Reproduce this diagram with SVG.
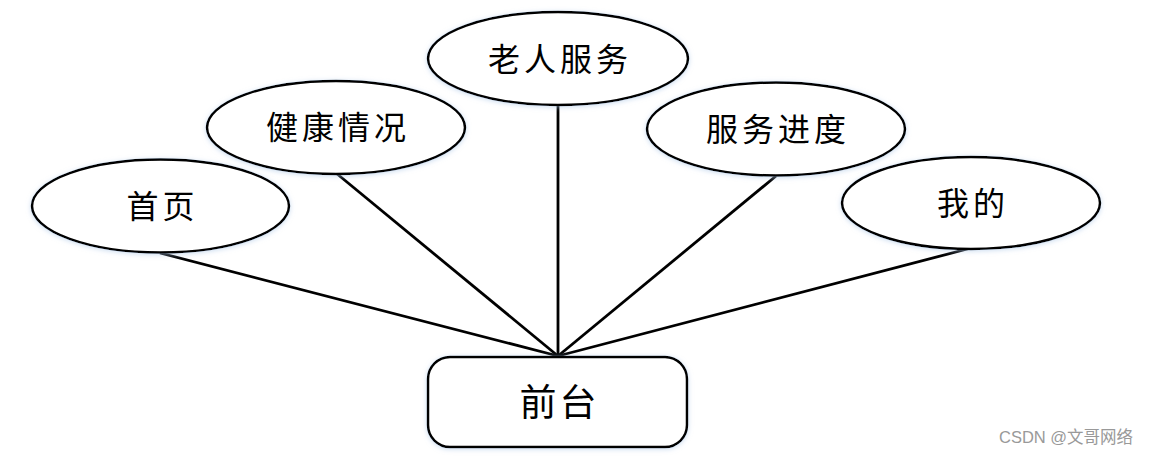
<svg xmlns="http://www.w3.org/2000/svg" width="1150" height="456" viewBox="0 0 1150 456">
<style>
.node{fill:#fff;stroke:#000;stroke-width:2.5;filter:url(#glow)}
.lbl{font-family:"Noto Sans CJK SC","Noto Sans",sans-serif;font-size:32px;letter-spacing:4px;fill:#000;text-anchor:middle;dominant-baseline:central}
.edge{stroke:#000;stroke-width:2.8;fill:none}
.wm{font-family:"Liberation Sans","Noto Sans CJK SC",sans-serif;font-size:16.5px;fill:#999}
</style>
<defs>
<filter id="glow" x="-10%" y="-20%" width="120%" height="140%">
<feDropShadow dx="0" dy="1" stdDeviation="2.5" flood-color="#a8c4e6" flood-opacity="0.6"/>
</filter>
</defs>
<rect width="1150" height="456" fill="#fff"/>
<g id="connectors">
<line class="edge" x1="160" y1="253" x2="558" y2="356"/>
<line class="edge" x1="336" y1="173" x2="558" y2="356"/>
<line class="edge" x1="558" y1="105" x2="558" y2="356"/>
<line class="edge" x1="776" y1="176" x2="558" y2="356"/>
<line class="edge" x1="971" y1="248" x2="558" y2="356"/>
</g>
<g id="n-shouye"><ellipse class="node" cx="160.5" cy="206" rx="128.5" ry="46.5"/><text class="lbl" x="162.5" y="204">首页</text></g>
<g id="n-jiankang"><ellipse class="node" cx="336" cy="127.5" rx="129" ry="46.5"/><text class="lbl" x="338" y="125">健康情况</text></g>
<g id="n-laoren"><ellipse class="node" cx="558" cy="58.5" rx="130" ry="46.5"/><text class="lbl" x="560" y="57">老人服务</text></g>
<g id="n-jindu"><ellipse class="node" cx="776" cy="129" rx="129" ry="46.5"/><text class="lbl" x="778" y="127">服务进度</text></g>
<g id="n-wode"><ellipse class="node" cx="971" cy="203" rx="129" ry="46"/><text class="lbl" x="973" y="201">我的</text></g>
<g id="n-qiantai"><rect class="node" x="428" y="357" width="259" height="90" rx="22"/><text class="lbl" x="559.5" y="400" style="font-size:37px;letter-spacing:3px">前台</text></g>
<text class="wm" x="999" y="443">CSDN @文哥网络</text>
</svg>
